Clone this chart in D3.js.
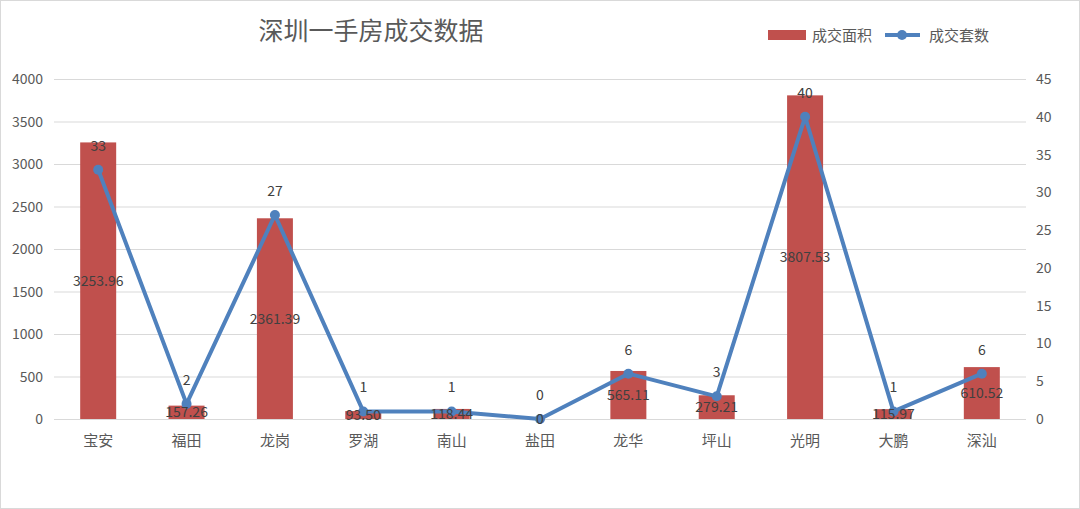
<!DOCTYPE html>
<html><head><meta charset="utf-8">
<script src="https://cdn.jsdelivr.net/npm/d3@7"></script>
<style>body{margin:0;background:#fff;font-family:"Noto Sans CJK SC","Noto Sans",sans-serif;}</style>
</head><body><svg id="c" width="1080" height="509"></svg>
<script>
var districts = ['宝安','福田','龙岗','罗湖','南山','盐田','龙华','坪山','光明','大鹏','深汕'];
var areaValues = [3253.96,157.26,2361.39,93.50,118.44,0,565.11,279.21,3807.53,115.97,610.52];
var unitValues = [33,2,27,1,1,0,6,3,40,1,6];
var leftTicks = [0,500,1000,1500,2000,2500,3000,3500,4000];
var rightTicks = [0,5,10,15,20,25,30,35,40,45];

var svg = d3.select('#c');
var txt = '#595959';
svg.append('rect').attr('x',0.5).attr('y',0.5).attr('width',1079).attr('height',508)
  .attr('fill','#fff').attr('stroke','#d9d9d9');

var x = d3.scaleBand().domain(districts).range([54,1026]);
var yL = d3.scaleLinear().domain([0,4000]).range([419,79]);
var yR = d3.scaleLinear().domain([0,45]).range([419,79]);

//---GRID
svg.append('g').selectAll('line').data(leftTicks).enter().append('line')
  .attr('x1',54).attr('x2',1026)
  .attr('y1',function(d){return yL(d)+0.5;}).attr('y2',function(d){return yL(d)+0.5;})
  .attr('stroke','#d9d9d9');

//---AXES LABELS
svg.append('g').selectAll('text').data(leftTicks).enter().append('text')
  .attr('x',43).attr('y',function(d){return yL(d)+5;}).attr('text-anchor','end')
  .attr('font-size',14).attr('fill',txt).text(function(d){return d;});
svg.append('g').selectAll('text').data(rightTicks).enter().append('text')
  .attr('x',1036).attr('y',function(d){return yR(d)+5;})
  .attr('font-size',14).attr('fill',txt).text(function(d){return d;});
svg.append('g').selectAll('text').data(districts).enter().append('text')
  .attr('x',function(d){return x(d)+x.bandwidth()/2;}).attr('y',446).attr('text-anchor','middle')
  .attr('font-size',15).attr('fill',txt).text(function(d){return d;});

//---BARS
var bw = 36;
svg.append('g').selectAll('rect').data(areaValues).enter().append('rect')
  .attr('x',function(d,i){return x(districts[i])+x.bandwidth()/2-bw/2;})
  .attr('y',function(d){return yL(d);}).attr('width',bw)
  .attr('height',function(d){return 419-yL(d);}).attr('fill','#c0504d');

//---LINE
var cx = function(d,i){return x(districts[i])+x.bandwidth()/2;};
svg.append('path').datum(unitValues)
  .attr('d',d3.line().x(cx).y(function(d){return yR(d);}))
  .attr('fill','none').attr('stroke','#4f81bd').attr('stroke-width',4).attr('stroke-linejoin','round');
svg.append('g').selectAll('circle').data(unitValues).enter().append('circle')
  .attr('cx',cx).attr('cy',function(d){return yR(d);}).attr('r',5).attr('fill','#4f81bd');

//---DATA LABELS
svg.append('g').selectAll('text').data(areaValues).enter().append('text')
  .attr('x',cx).attr('y',function(d){return (yL(d)+419)/2+5;})
  .attr('text-anchor','middle').attr('font-size',14).attr('fill','#404040')
  .text(function(d){return d===0?'0':d.toFixed(2);});
svg.append('g').selectAll('text').data(unitValues).enter().append('text')
  .attr('x',cx).attr('y',function(d){return yR(d)-19;})
  .attr('text-anchor','middle').attr('font-size',14).attr('fill','#404040')
  .text(function(d){return d;});

//---TITLE & LEGEND
svg.append('text').attr('x',371).attr('y',40).attr('text-anchor','middle')
  .attr('font-size',25).attr('fill',txt).text('深圳一手房成交数据');
svg.append('rect').attr('x',768).attr('y',30).attr('width',38).attr('height',10).attr('fill','#c0504d');
svg.append('text').attr('x',812).attr('y',41).attr('font-size',15).attr('fill',txt).text('成交面积');
svg.append('line').attr('x1',885).attr('x2',920).attr('y1',35).attr('y2',35)
  .attr('stroke','#4f81bd').attr('stroke-width',4);
svg.append('circle').attr('cx',902).attr('cy',35).attr('r',5).attr('fill','#4f81bd');
svg.append('text').attr('x',929).attr('y',41).attr('font-size',15).attr('fill',txt).text('成交套数');
</script></body></html>
